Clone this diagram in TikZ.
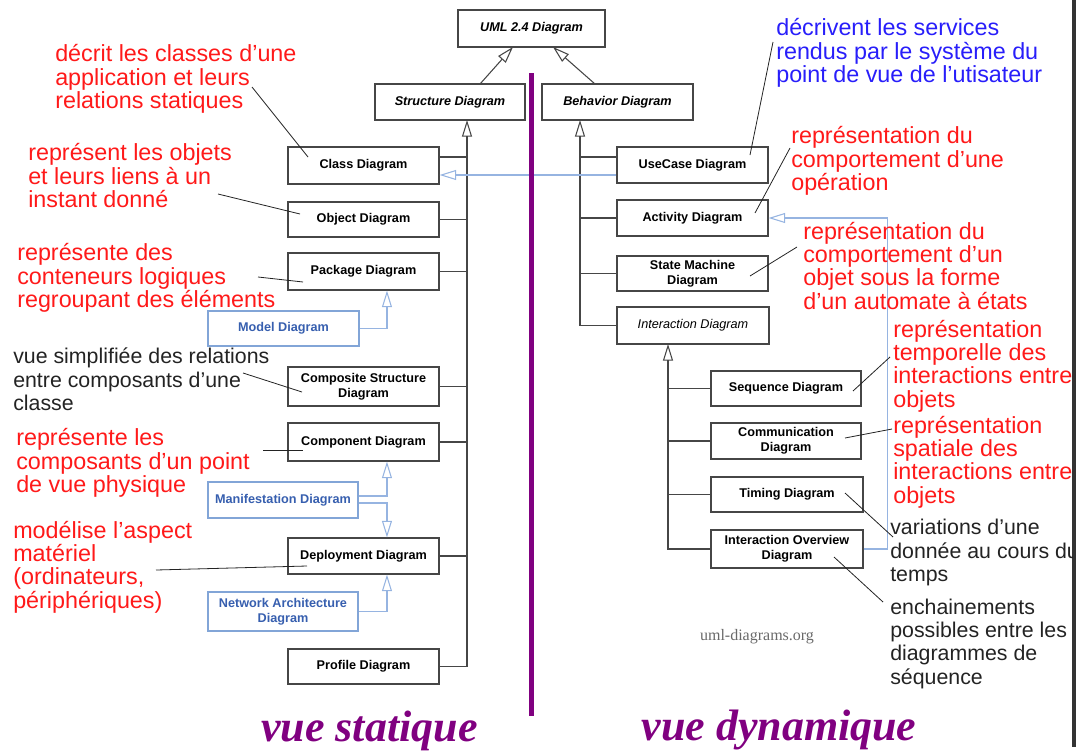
\documentclass[tikz,border=0pt]{standalone}
\usepackage{fontspec}
\setmainfont{Liberation Sans}
\newfontfamily\serifface{Liberation Serif}
\usetikzlibrary{arrows.meta}

\definecolor{treegray}{RGB}{70,70,70}
\definecolor{lightblue}{RGB}{150,180,225}
\definecolor{boxblue}{RGB}{130,165,215}
\definecolor{textblue}{RGB}{55,95,175}
\definecolor{notered}{RGB}{255,25,25}
\definecolor{noteblue}{RGB}{40,30,250}
\definecolor{noteblack}{RGB}{35,35,35}
\definecolor{viewpurple}{RGB}{128,0,128}
\definecolor{wmgray}{RGB}{105,105,105}

\tikzset{
  box/.style={draw=treegray, line width=0.8pt, fill=white, inner sep=1pt, align=center,
    font=\fontsize{9.5}{11}\selectfont\bfseries, text=black},
  absbox/.style={box, font=\fontsize{9.5}{11}\selectfont\bfseries\itshape},
  absboxlight/.style={box, font=\fontsize{9.5}{11}\selectfont\itshape},
  bluebox/.style={box, draw=boxblue, text=textblue},
  tree/.style={draw=treegray, line width=0.8pt},
  gen/.style={tree, -{Triangle[open, length=12.5pt, width=7.5pt]}},
  realize/.style={draw=lightblue, line width=0.8pt, -{Triangle[open, length=12.5pt, width=7.5pt]}},
  % comments are placed by the baseline of their last line
  note/.style={font=\fontsize{17.5}{17.6}\selectfont, align=left, anchor=base west, inner sep=0pt},
  notedark/.style={note, font=\fontsize{16}{17.6}\selectfont, text=noteblack},
  pointer/.style={draw=noteblack, line width=0.6pt},
}

\begin{document}
\begin{tikzpicture}[x=0.75pt, y=-0.75pt]
\useasboundingbox (0,0) rectangle (1077,750);

% ---------- root and the two families ----------
\node[absbox, minimum width=110.25pt, minimum height=27.75pt] (uml) at (531.5,28.5) {UML 2.4 Diagram};
\node[absbox, minimum width=112.5pt, minimum height=27pt] (struct) at (450,102) {Structure Diagram};
\node[absbox, minimum width=113.25pt, minimum height=27pt] (behav) at (617.5,102) {Behavior Diagram};

% ---------- structure diagrams ----------
\node[box, minimum width=113.25pt, minimum height=27.75pt] (class) at (363.5,165.5) {Class Diagram};
\node[box, minimum width=113.25pt, minimum height=26.25pt] (object) at (363.5,219.5) {Object Diagram};
\node[box, minimum width=113.25pt, minimum height=27.75pt] (package) at (363.5,271.5) {Package Diagram};
\node[bluebox, minimum width=113.25pt, minimum height=26.25pt] (model) at (283.5,328.5) {Model Diagram};
\node[box, minimum width=113.25pt, minimum height=29.25pt] (composite) at (363.5,386.5) {Composite Structure\\Diagram};
\node[box, minimum width=113.25pt, minimum height=28.5pt] (component) at (363.5,442) {Component Diagram};
\node[bluebox, minimum width=112.5pt, minimum height=27pt] (manif) at (283,500) {Manifestation Diagram};
\node[box, minimum width=113.25pt, minimum height=27pt] (deploy) at (363.5,556) {Deployment Diagram};
\node[bluebox, minimum width=112.5pt, minimum height=29.25pt] (network) at (283,611.5) {Network Architecture\\Diagram};
\node[box, minimum width=113.25pt, minimum height=26.25pt] (profile) at (363.5,666.5) {Profile Diagram};

% ---------- behavior diagrams ----------
\node[box, minimum width=113.25pt, minimum height=27pt] (usecase) at (692.5,165) {UseCase Diagram};
\node[box, minimum width=113.25pt, minimum height=27pt] (activity) at (692.5,218) {Activity Diagram};
\node[box, minimum width=113.25pt, minimum height=26.25pt] (statem) at (692.5,273.5) {State Machine\\Diagram};
\node[absboxlight, minimum width=114pt, minimum height=27.75pt] (interaction) at (693,325.5) {Interaction Diagram};
\node[box, minimum width=112.5pt, minimum height=26.25pt] (sequence) at (786,388.5) {Sequence Diagram};
\node[box, minimum width=112.5pt, minimum height=27pt] (commu) at (786,441) {Communication\\Diagram};
\node[box, minimum width=114pt, minimum height=26.25pt] (timing) at (787,494.5) {Timing Diagram};
\node[box, minimum width=114pt, minimum height=28.5pt] (overview) at (787,549) {Interaction Overview\\Diagram};

% ---------- generalisation trees ----------
\coordinate (sApex) at (480,84);
\coordinate (bApex) at (595,84);
\coordinate (umlL) at (513,47);
\coordinate (umlR) at (553,47);
\draw[gen] (sApex) -- (umlL);
\draw[gen] (bApex) -- (umlR);

\coordinate (sTop) at (467,120);
\draw[gen] (profile.east) -| (sTop);
\draw[tree] ([yshift=6.4pt]class.east) coordinate (cb) -- (cb -| sTop);
\foreach \n in {object,package,composite,component,deploy}
  \draw[tree] (\n.east) -- (\n.east -| sTop);

\coordinate (bTop) at (580,120);
\draw[gen] (interaction.west) -| (bTop);
\draw[tree] ([yshift=6pt]usecase.west) coordinate (ub) -- (ub -| bTop);
\foreach \n in {activity,statem}
  \draw[tree] (\n.west) -- (\n.west -| bTop);

\coordinate (iTop) at (668,344);
\draw[gen] (overview.west) -| (iTop);
\foreach \n in {sequence,commu,timing}
  \draw[tree] (\n.west) -- (\n.west -| iTop);

% ---------- light blue relations ----------
\draw[realize] ([yshift=-7.5pt]usecase.west) coordinate (ul) -- (ul -| class.east);
\draw[realize] (overview.east) -- ++(24,0) |- (activity.east);
\draw[realize] (model.east) -| ([xshift=17.6pt]package.south);
\draw[realize] ([yshift=3pt]manif.east) -| ([xshift=17.6pt]component.south);
\draw[realize] ([yshift=-2.25pt]manif.east) -| ([xshift=17.6pt]deploy.north);
\draw[realize] (network.east) -| ([xshift=17.6pt]deploy.south);

% ---------- separators ----------
\fill[viewpurple] (529,73) rectangle (534,716);
\fill[black!80] (1072,0) rectangle (1076,747);

% ---------- comments ----------
\begin{scope}
\clip (0,0) rectangle (1072,750);
\node[note, text=notered] (nClass) at (55,108.9) {décrit les classes d'une\\application et leurs\\relations statiques};
\node[note, text=notered] (nObject) at (28,207.9) {représent les objets\\et leurs liens à un\\instant donné};
\node[note, text=notered] (nPackage) at (17,307.9) {représente des\\conteneurs logiques\\regroupant des éléments};
\node[notedark] (nComposite) at (13,410.9) {vue simplifiée des relations\\entre composants d'une\\classe};
\node[note, text=notered] (nComponent) at (16,492.9) {représente les\\composants d'un point\\de vue physique};
\node[note, text=notered] (nDeploy) at (13,608.4) {modélise l'aspect\\matériel\\(ordinateurs,\\périphériques)};
\node[note, text=noteblue] (nUsecase) at (776,82.9) {décrivent les services\\rendus par le système du\\point de vue de l'utisateur};
\node[note, text=notered] (nActivity) at (791,190.9) {représentation du\\comportement d'une\\opération};
\node[note, text=notered] (nState) at (803,309.4) {représentation du\\comportement d'un\\objet sous la forme\\d'un automate à états};
\node[note, text=notered] (nSequence) at (893,407.4) {représentation\\temporelle des\\interactions entre\\objets};
\node[note, text=notered] (nCommu) at (893,503.4) {représentation\\spatiale des\\interactions entre\\objets};
\node[notedark] (nTiming) at (890,581.9) {variations d'une\\donnée au cours du\\temps};
\node[notedark] (nOverview) at (890,684.4) {enchainements\\possibles entre les\\diagrammes de\\séquence};
\end{scope}

% ---------- comment pointers ----------
\coordinate (pcA) at (252,87);  \coordinate (pcB) at (308,157);
\coordinate (poA) at (218,194); \coordinate (poB) at (300,214);
\coordinate (ppA) at (258,277); \coordinate (ppB) at (303,282);
\coordinate (pkA) at (243,373); \coordinate (pkB) at (302,392);
\coordinate (pmA) at (263,450); \coordinate (pmB) at (303,450);
\coordinate (pdA) at (156,570); \coordinate (pdB) at (307,566);
\coordinate (puA) at (773,42);  \coordinate (puB) at (750,155);
\coordinate (paA) at (790,148); \coordinate (paB) at (755,213);
\coordinate (psA) at (797,247); \coordinate (psB) at (750,276);
\coordinate (pqA) at (890,357); \coordinate (pqB) at (853,391);
\coordinate (pcmA) at (892,429); \coordinate (pcmB) at (845,438);
\coordinate (ptA) at (893,537); \coordinate (ptB) at (845,493);
\coordinate (pvA) at (883,602); \coordinate (pvB) at (834,557);
\foreach \a/\b in {pcA/pcB,poA/poB,ppA/ppB,pkA/pkB,pmA/pmB,pdA/pdB,puA/puB,paA/paB,psA/psB,pqA/pqB,pcmA/pcmB,ptA/ptB,pvA/pvB}
  \draw[pointer] (\a) -- (\b);

% ---------- labels ----------
\node[font=\serifface\fontsize{12}{14}\selectfont, text=wmgray] (wm) at (757,637) {uml-diagrams.org};
\node[font=\serifface\fontsize{33}{36}\selectfont\bfseries\itshape, text=viewpurple, anchor=base, inner sep=0pt] (vStat) at (369.5,741) {vue statique};
\node[font=\serifface\fontsize{33}{36}\selectfont\bfseries\itshape, text=viewpurple, anchor=base, inner sep=0pt] (vDyn) at (779,740) {vue dynamique};
\end{tikzpicture}
\end{document}
